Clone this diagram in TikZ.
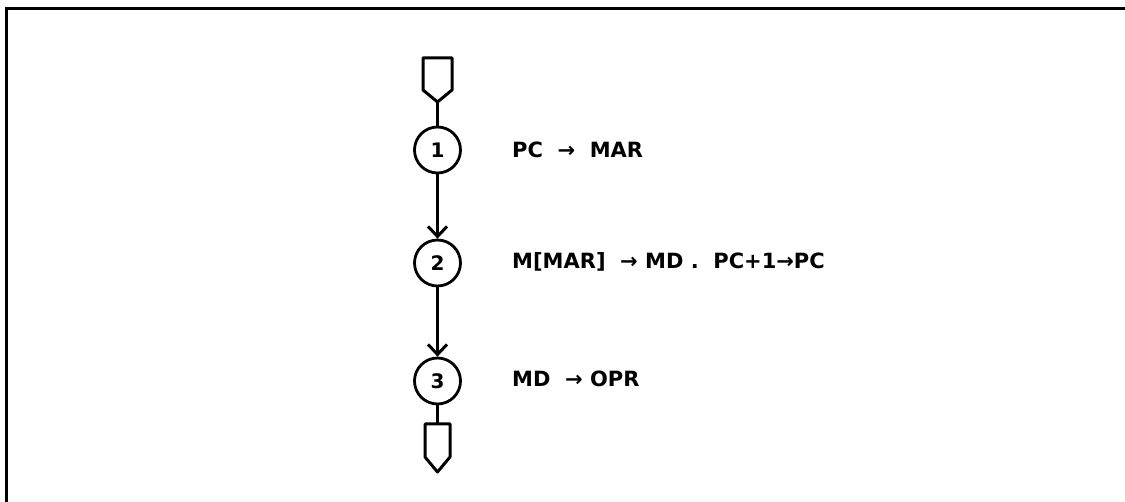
\documentclass[tikz,border=0pt]{standalone}
\usepackage{fontspec}
\setmainfont{DejaVu Sans}
\usetikzlibrary{arrows.meta}
\begin{document}
\begin{tikzpicture}[x=1pt,y=-1pt,
  stepcircle/.style={draw,circle,line width=2.8pt,minimum size=46pt,inner sep=0pt,font=\fontsize{20}{20}\selectfont\bfseries},
  steptext/.style={anchor=west,inner sep=0pt,font=\fontsize{21}{21}\selectfont\bfseries},
  link/.style={line width=2.8pt},
  flow/.style={line width=2.8pt,-{Straight Barb[length=10pt,width=19pt,line width=3pt]}},
  term/.style={line width=3pt,line join=round}]
\useasboundingbox (0,0) rectangle (1125,502);
\draw[line width=3pt] (6,502) -- (6,8.5) -- (1125,8.5);
% terminals
\draw[term] (423,58) -- (452,58) -- (452,90) -- (437.5,102) -- (423,90) -- cycle;
\coordinate (ttop) at (437.5,102);
\draw[term] (425,424) -- (450,424) -- (450,457) -- (437.5,472) -- (425,457) -- cycle;
\coordinate (tbot) at (437.5,424);
% steps
\node[stepcircle] (c1) at (437.5,150) {1};
\node[stepcircle] (c2) at (437.5,263) {2};
\node[stepcircle] (c3) at (437.5,381) {3};
\draw[link] (ttop) -- (c1);
\draw[flow] (c1) -- (c2);
\draw[flow] (c2) -- (c3);
\draw[link] (c3) -- (tbot);
% texts
\node[steptext] (t1) at (512,150) {PC\ \ →\ \ MAR};
\node[steptext] (t2) at (512,262) {M[MAR]\ \ →\ MD\ .\ \ PC+1→PC};
\node[steptext] (t3) at (512,379) {MD\ \ →\ OPR};
\end{tikzpicture}
\end{document}
